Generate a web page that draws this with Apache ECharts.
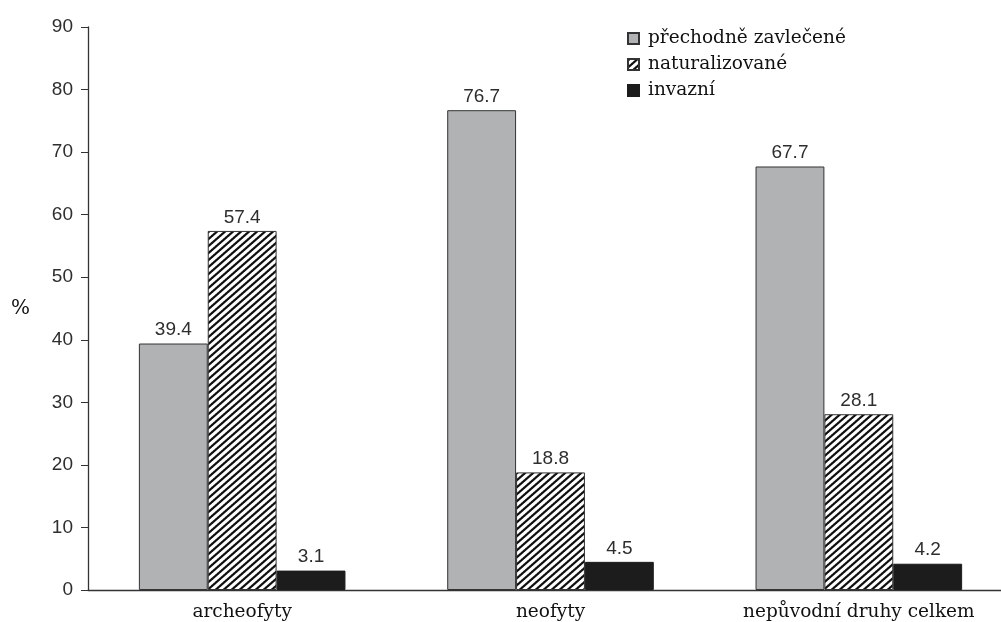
<!DOCTYPE html>
<html>
<head>
<meta charset="utf-8">
<script src="https://cdn.jsdelivr.net/npm/echarts@6/dist/echarts.min.js"></script>
<style>
  html, body { margin: 0; padding: 0; background: #fff; }
  #chart { width: 1001px; height: 622px; }
</style>
</head>
<body>
<div id="chart"></div>
<script>
const categories = ['archeofyty', 'neofyty', 'nepůvodní druhy celkem'];
const seriesNames = ['přechodně zavlečené', 'naturalizované', 'invazní'];
const casual = [39.4, 76.7, 67.7];
const naturalized = [57.4, 18.8, 28.1];
const invasive = [3.1, 4.5, 4.2];
const yTicks = [0, 10, 20, 30, 40, 50, 60, 70, 80, 90];

// diagonal black-on-white hatch (rising to the right) for the naturalized bars
function hatch() {
  const w = 8, h = 7, ss = 4;
  const c = document.createElement('canvas');
  c.width = w; c.height = h;
  const g = c.getContext('2d');
  const img = g.createImageData(w, h);
  for (let y = 0; y < h; y++) {
    for (let x = 0; x < w; x++) {
      let dark = 0;
      for (let sy = 0; sy < ss; sy++) {
        for (let sx = 0; sx < ss; sx++) {
          const px = x + (sx + 0.5) / ss, py = y + (sy + 0.5) / ss;
          const ph = (px / w + py / h) % 1;
          if (ph < 0.42) dark++;
        }
      }
      const v = Math.round(255 - (dark / (ss * ss)) * 240);
      const i = (y * w + x) * 4;
      img.data[i] = img.data[i + 1] = img.data[i + 2] = v;
      img.data[i + 3] = 255;
    }
  }
  g.putImageData(img, 0, 0);
  return c;
}
const hatchFill = { image: hatch(), repeat: 'repeat' };

const sans = '"Liberation Sans", Arial, sans-serif';
const serif = '"DejaVu Serif", serif';
const labelStyle = {
  show: true, position: 'top', distance: 4,
  fontFamily: sans, fontSize: 19, color: '#2e2e2e',
  formatter: p => p.value.toFixed(1)
};

const chart = echarts.init(document.getElementById('chart'));
chart.setOption({
  animation: false,
  backgroundColor: '#fff',
  grid: { left: 88, top: 27, width: 925, bottom: 32, containLabel: false, outerBoundsMode: 'none' },
  legend: {
    left: 622, top: 24, orient: 'vertical', itemGap: 7,
    itemWidth: 11, itemHeight: 11,
    textStyle: { fontFamily: serif, fontSize: 18.5, lineHeight: 18, color: '#111', padding: [0, 0, 0, 4] },
    data: seriesNames.map(n => ({ name: n, icon: 'rect' }))
  },
  xAxis: {
    type: 'category', data: categories,
    axisLine: { lineStyle: { color: '#333', width: 1.3 } },
    axisTick: { show: false },
    axisLabel: { fontFamily: serif, fontSize: 18.5, color: '#111', margin: 13 }
  },
  yAxis: {
    type: 'value', min: 0, max: 90, interval: 10,
    name: '%', nameLocation: 'middle', nameRotate: 0, nameGap: 58,
    nameTextStyle: { fontFamily: serif, fontSize: 20, color: '#111' },
    axisLine: { show: true, lineStyle: { color: '#333', width: 1.3 } },
    axisTick: { show: true, inside: false, length: 7, lineStyle: { color: '#333' } },
    axisLabel: {
      fontFamily: sans, fontSize: 19, color: '#2e2e2e', margin: 15,
      formatter: v => yTicks.includes(v) ? String(v) : ''
    },
    splitLine: { show: false }
  },
  series: [
    {
      name: seriesNames[0], type: 'bar', data: casual,
      barGap: '0%', barCategoryGap: '33%',
      itemStyle: { color: '#b1b2b4', borderColor: '#333', borderWidth: 1 },
      label: labelStyle
    },
    {
      name: seriesNames[1], type: 'bar', data: naturalized,
      itemStyle: { color: hatchFill, borderColor: '#333', borderWidth: 1 },
      label: labelStyle
    },
    {
      name: seriesNames[2], type: 'bar', data: invasive,
      itemStyle: { color: '#1c1c1c', borderColor: '#1c1c1c', borderWidth: 1 },
      label: labelStyle
    }
  ]
});
</script>
</body>
</html>
